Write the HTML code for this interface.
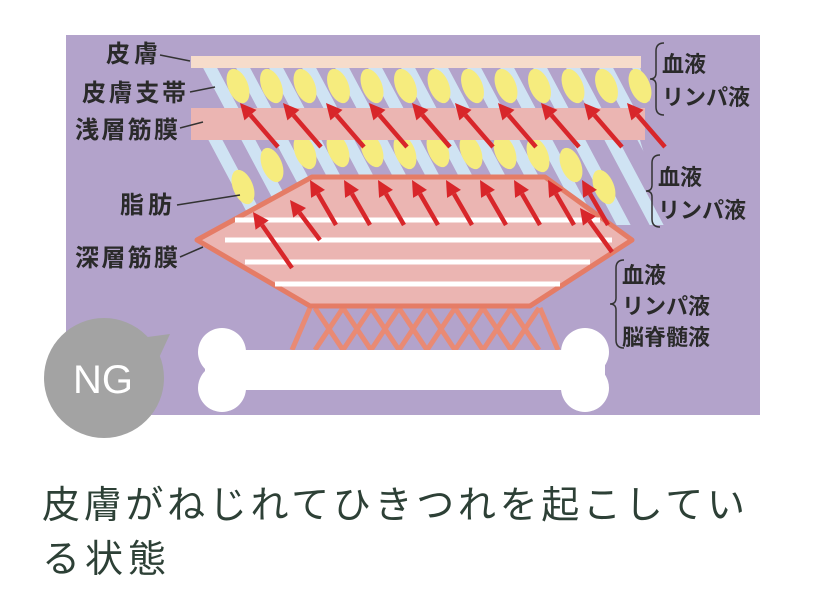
<!DOCTYPE html>
<html><head><meta charset="utf-8"><style>
body{margin:0;background:#fff;width:816px;height:614px;overflow:hidden}
svg{display:block}
.l{font-family:"Liberation Sans","Noto Sans CJK JP",sans-serif;font-weight:bold;font-size:24px;fill:#2a2a2a}
.r{font-family:"Liberation Sans","Noto Sans CJK JP",sans-serif;font-weight:bold;font-size:22px;fill:#2a2a2a}
</style></head><body>
<svg width="816" height="614" viewBox="0 0 816 614" xmlns="http://www.w3.org/2000/svg">
<defs>
<pattern id="st" width="33" height="200" patternUnits="userSpaceOnUse" patternTransform="translate(200,0) skewX(28)">
<rect x="0" y="0" width="14" height="200" fill="#cfe3f3"/>
</pattern>
<clipPath id="b1"><polygon points="192,67 640,67 652,108 210,108"/></clipPath>
<clipPath id="b2"><polygon points="200,140 640,140 665,225 240,225"/></clipPath>
</defs>
<rect x="66" y="35" width="694" height="380" fill="#b3a3cb"/>
<g clip-path="url(#b1)"><rect x="180" y="60" width="500" height="60" fill="url(#st)"/></g>
<g id="e1" fill="#f6ec7e"></g>
<g clip-path="url(#b2)"><rect x="180" y="130" width="500" height="110" fill="url(#st)"/></g>
<g id="e2" fill="#f6ec7e"></g>
<rect x="191" y="56" width="450" height="12" fill="#f6dccb"/>
<rect x="191" y="108" width="454" height="32" fill="#ebb5b2"/>
<g id="a1"></g>
<g id="lat" stroke="#e98a74" stroke-width="5" fill="none"></g>
<polygon points="312,177 545,177 632,240 530,306 310,306 197,240" fill="#ebb5b2" stroke="#e57c66" stroke-width="5" stroke-linejoin="round"/>
<g stroke="#fff" stroke-width="5">
<line x1="235" y1="220" x2="600" y2="220"/>
<line x1="225" y1="240" x2="612" y2="240"/>
<line x1="245" y1="262" x2="590" y2="262"/>
<line x1="275" y1="284" x2="560" y2="284"/>
</g>
<g id="a2"></g>
<g fill="#fff">
<circle cx="222" cy="352" r="24"/><circle cx="222" cy="388" r="24"/>
<circle cx="585" cy="352" r="24"/><circle cx="585" cy="388" r="24"/>
<rect x="222" y="352" width="363" height="36"/>
<rect x="205" y="350" width="400" height="40"/>
</g>
<circle cx="104" cy="378" r="60" fill="#a3a3a3"/>
<polygon points="140,338 170,334 158,360" fill="#a3a3a3"/>
<text x="103" y="393" text-anchor="middle" font-family="Liberation Sans,sans-serif" font-size="40" fill="#fff">NG</text>
<g stroke="#333" stroke-width="1.5">
<line x1="160" y1="55" x2="190" y2="61"/>
<line x1="190" y1="92" x2="215" y2="87"/>
<line x1="180" y1="128" x2="203" y2="122"/>
<line x1="177" y1="205" x2="240" y2="195"/>
<line x1="180" y1="257" x2="203" y2="247"/>
</g>
<text class="l" x="106" y="62" textLength="52">皮膚</text>
<text class="l" x="82" y="101" textLength="104">皮膚支帯</text>
<text class="l" x="75" y="138" textLength="103">浅層筋膜</text>
<text class="l" x="120" y="213" textLength="52">脂肪</text>
<text class="l" x="75" y="266" textLength="103">深層筋膜</text>
<g stroke="#333" stroke-width="1.5" fill="none">
<path d="M664,43 q-8,0 -8,8 v22 q0,6 -6,6 q6,0 6,6 v22 q0,8 8,8"/>
<path d="M660,155 q-8,0 -8,8 v22 q0,6 -6,6 q6,0 6,6 v22 q0,8 8,8"/>
<path d="M624,260 q-8,0 -8,8 v30 q0,6 -6,6 q6,0 6,6 v30 q0,8 8,8"/>
</g>
<text class="r" x="662" y="72">血液</text>
<text class="r" x="662" y="105">リンパ液</text>
<text class="r" x="658" y="185">血液</text>
<text class="r" x="658" y="218">リンパ液</text>
<text class="r" x="622" y="283">血液</text>
<text class="r" x="622" y="314">リンパ液</text>
<text class="r" x="622" y="345">脳脊髄液</text>
<text x="42" y="518" textLength="703" font-family="Liberation Sans,'Noto Sans CJK JP',sans-serif" font-size="38" fill="#2d4036">皮膚がねじれてひきつれを起こしてい</text>
<text x="42" y="572" textLength="124" font-family="Liberation Sans,'Noto Sans CJK JP',sans-serif" font-size="38" fill="#2d4036">る状態</text>
</svg>
<script>
var NS="http://www.w3.org/2000/svg";
function el(p,t,a){var e=document.createElementNS(NS,t);for(var k in a)e.setAttribute(k,a[k]);document.getElementById(p).appendChild(e);}
for(var i=0;i<13;i++){var x=238+i*33.5;el("e1","ellipse",{cx:x,cy:86,rx:10,ry:18,transform:"rotate(-22 "+x+" 86)"});}
var e2=[[243,187],[272,165],[305,152],[338,150],[372,150],[405,152],[438,150],[471,152],[505,152],[538,155],[571,165],[604,187]];
e2.forEach(function(p){el("e2","ellipse",{cx:p[0],cy:p[1],rx:10,ry:18,transform:"rotate(-22 "+p[0]+" "+p[1]+")"});});
function arrow(g,tx,ty,hx,hy){var dx=hx-tx,dy=hy-ty,L=Math.hypot(dx,dy),ux=dx/L,uy=dy/L,px=-uy,py=ux;var bx=hx-ux*16,by=hy-uy*16;
el(g,"line",{x1:tx,y1:ty,x2:bx,y2:by,stroke:"#d8262a","stroke-width":4.5});
el(g,"polygon",{points:hx+","+hy+" "+(bx+px*8)+","+(by+py*8)+" "+(bx-px*8)+","+(by-py*8),fill:"#d8262a"});}
for(var i=0;i<10;i++){var x=240+i*43;arrow("a1",x+38,147,x,103);}
for(var i=0;i<9;i++){var x=310+i*34;arrow("a2",x+26,225,x,180);}
arrow("a2",292,268,253,212);arrow("a2",320,240,290,200);
arrow("a2",612,252,580,208);
for(var i=0;i<8;i++){var x=315+i*28;el("lat","line",{x1:x,y1:308,x2:x+28,y2:350});el("lat","line",{x1:x+28,y1:308,x2:x,y2:350});}
el("lat","line",{x1:310,y1:308,x2:292,y2:350});el("lat","line",{x1:540,y1:308,x2:558,y2:350});
</script>
</body></html>
